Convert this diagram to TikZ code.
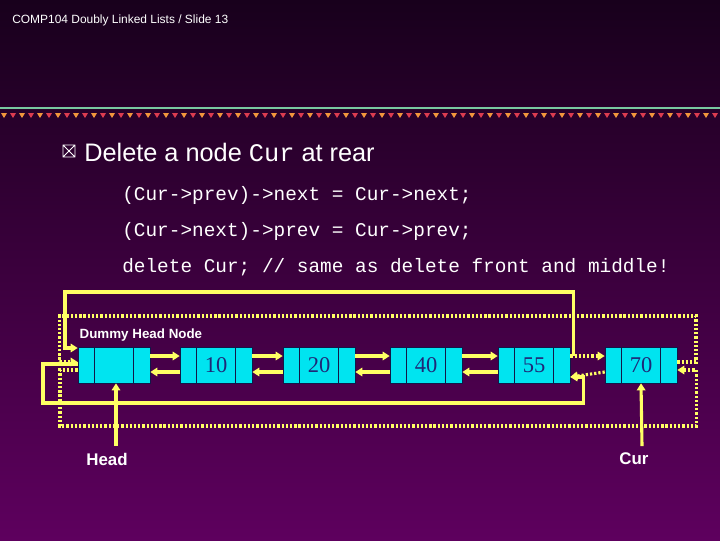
\documentclass[tikz,border=0pt]{standalone}
\usepackage{fontspec}
\setmainfont{Liberation Sans}
\setmonofont{Liberation Mono}
\newfontfamily\numfont{Liberation Serif}
\usetikzlibrary{arrows.meta,calc,positioning}
\definecolor{bgtop}{RGB}{24,0,28}
\definecolor{bgbot}{RGB}{94,0,94}
\definecolor{cellcyan}{RGB}{0,228,240}
\definecolor{numblue}{RGB}{30,40,120}
\definecolor{ptr}{RGB}{255,255,100}
\definecolor{rule}{RGB}{120,200,160}
\definecolor{tri1}{RGB}{240,150,60}
\definecolor{tri2}{RGB}{220,60,80}

\tikzset{
  lnode/.style={draw=numblue!60!black, fill=cellcyan, minimum width=1.8cm, minimum height=0.9cm,
    inner sep=0pt, font=\numfont\fontsize{16}{16}\selectfont, text=numblue},
  link/.style={ptr, line width=2.2pt, -{Triangle[length=5pt,width=6pt]}},
  oldlink/.style={link, dash pattern=on 1.6pt off 1.4pt},
}

\begin{document}
\begin{tikzpicture}[x=0.025cm, y=-0.025cm]
    \shade[top color=bgtop, bottom color=bgbot] (0,0) rectangle (720,540);
    \useasboundingbox (0,0) rectangle (720,540);

    % title and rule
    \node[anchor=west, white, font=\fontsize{8.5}{9}\selectfont, inner sep=0pt] (title) at (12,20) {COMP104 Doubly Linked Lists / Slide 13};
    \draw[rule, line width=1.2pt] (0,108) -- (720,108);
    \foreach \i in {0,2,...,78} {
        \fill[tri1] (4+9*\i-3,113) -- (4+9*\i+3,113) -- (4+9*\i,118) -- cycle;
        \fill[tri2] (13+9*\i-3,113) -- (13+9*\i+3,113) -- (13+9*\i,118) -- cycle;
    }

    % bullet and code
    \draw[white, line width=0.6pt] (63,145) rectangle ++(12,12) (63,145) -- ++(12,12) (75,145) -- ++(-12,12);
    \node[anchor=west, white, font=\fontsize{18}{20}\selectfont, inner sep=0pt] (head) at (84,152) {Delete a node \texttt{Cur} at rear};
    \node[anchor=west, white, font=\ttfamily\fontsize{13.8}{15}\selectfont, inner sep=0pt] (c1) at (122,195) {(Cur->prev)->next = Cur->next;};
    \node[anchor=west, white, font=\ttfamily\fontsize{13.8}{15}\selectfont, inner sep=0pt] (c2) at (122,231) {(Cur->next)->prev = Cur->prev;};
    \node[anchor=west, white, font=\ttfamily\fontsize{13.8}{15}\selectfont, inner sep=0pt] (c3) at (122,267) {delete Cur; // same as delete front and middle!};

    % list nodes
    \node[lnode] (dummy) at (114,365) {};
    \node[lnode] (n10) at (216,365) {10};
    \node[lnode] (n20) at (319,365) {20};
    \node[lnode] (n40) at (426,365) {40};
    \node[lnode] (n55) at (534,365) {55};
    \node[lnode] (n70) at (641,365) {70};
    \foreach \n in {dummy,n10,n20,n40,n55,n70} {
        \draw[numblue!60!black, line width=1pt] ($(\n.north west)+(17,0)$) -- ($(\n.south west)+(17,0)$);
        \draw[numblue!60!black, line width=1pt] ($(\n.north east)+(-17,0)$) -- ($(\n.south east)+(-17,0)$);
    }
    \node[anchor=south west, white, font=\bfseries\fontsize{9.5}{10}\selectfont, inner sep=1pt] (dlabel) at (78,343) {Dummy Head Node};

    % next and prev links
    \foreach \a/\b in {dummy/n10,n10/n20,n20/n40,n40/n55} {
        \draw[link] ($(\a.east)+(0,-9)$) -- ($(\b.west)+(0,-9)$);
        \draw[link] ($(\b.west)+(0,7)$) -- ($(\a.east)+(0,7)$);
    }
    \draw[oldlink] ($(n55.east)+(0,-9)$) -- ($(n70.west)+(0,-9)$);
    \draw[oldlink] ($(n70.west)+(0,7)$) -- ($(n55.east)+(0,12)$);

    % new links around the rear
    \draw[link] ($(n55.east)+(3,-9)$) |- (65,292) |- ($(dummy.west)+(0,-17)$);
    \draw[link] ($(dummy.west)+(0,-1)$) -| (43,403) -| ($(n55.east)+(13,12)$) -- ($(n55.east)+(0,12)$);

    % old links through the dummy
    \draw[oldlink] ($(n70.east)+(0,-3)$) -| (696,316) -| ($(dummy.west)+(-18,-3)$) -- ($(dummy.west)+(0,-3)$);
    \draw[oldlink] ($(dummy.west)+(0,5)$) -| (60,426) -| ($(n70.east)+(19,5)$) -- ($(n70.east)+(0,5)$);

    % pointers
    \node[white, font=\bfseries\fontsize{12}{13}\selectfont] (hp) at (107,459) {Head};
    \node[white, font=\bfseries\fontsize{12}{13}\selectfont] (cp) at (634,459) {Cur};
    \draw[link] ($(hp.north)+(9,-2)$) -- ($(dummy.south)+(2,0)$);
    \draw[link] ($(cp.north)+(8,-2)$) -- (n70.south);

\end{tikzpicture}
\end{document}
